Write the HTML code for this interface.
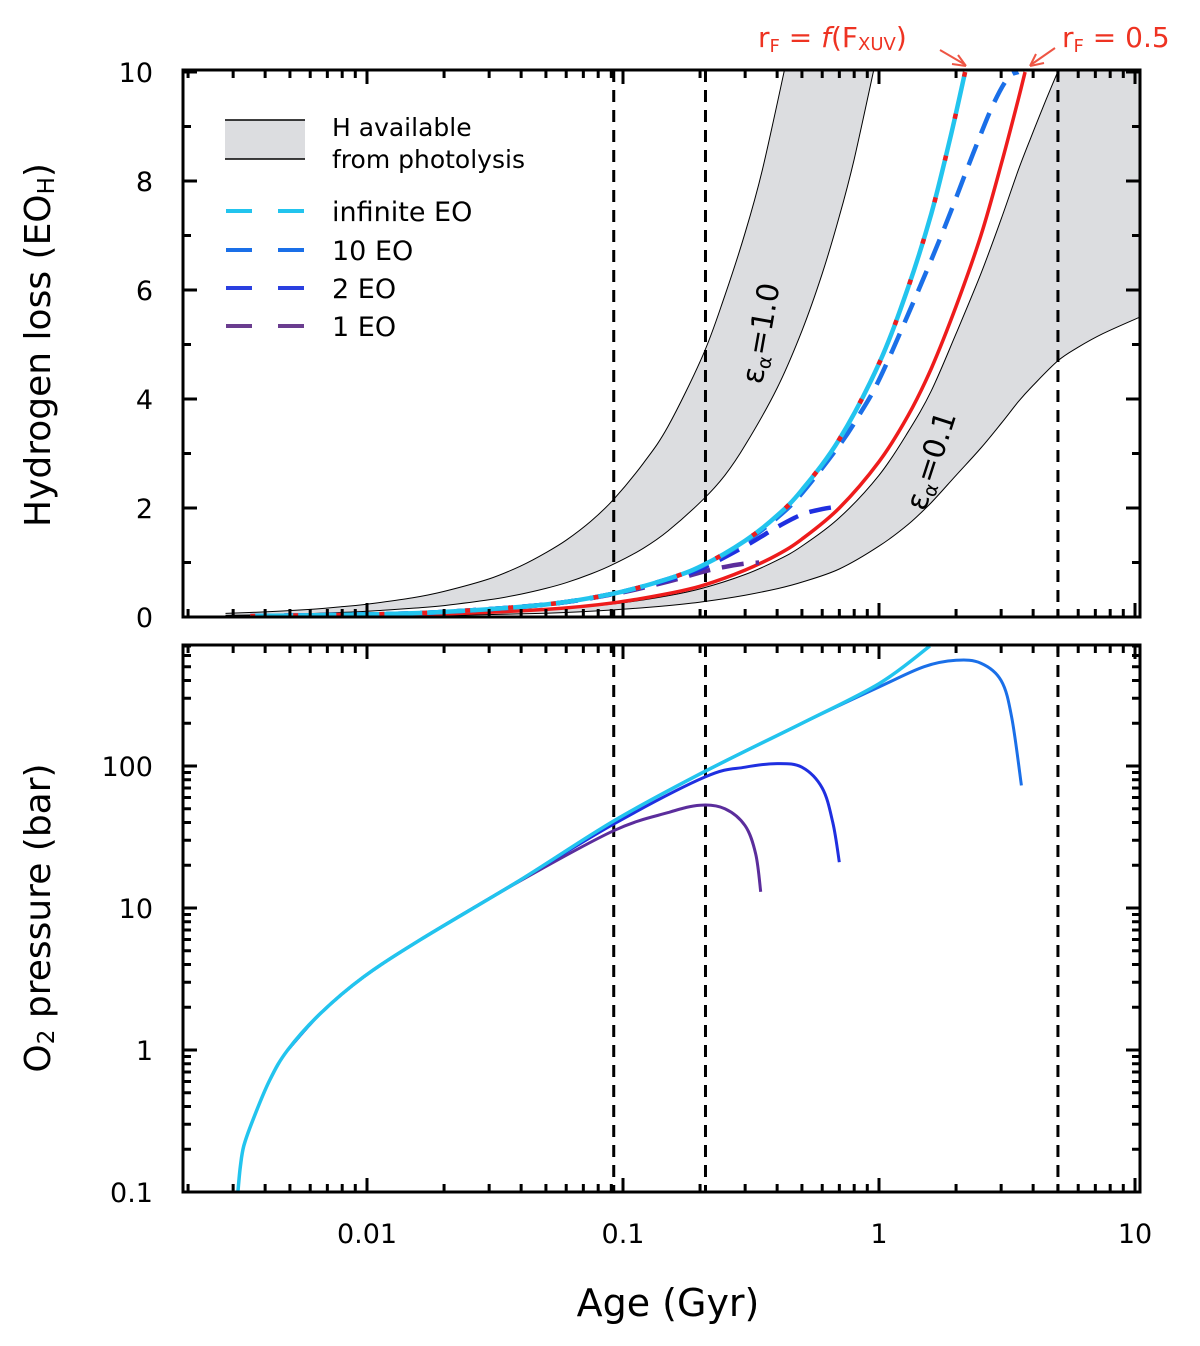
<!DOCTYPE html>
<html><head><meta charset="utf-8"><style>
body{margin:0;background:#fff}
svg text{font-family:"DejaVu Sans","Liberation Sans",sans-serif}
</style></head><body>
<svg id="chart" width="1200" height="1341" xmlns="http://www.w3.org/2000/svg"></svg>
<script>
// ---- data (age in Gyr) ----
const band1UpperAge=[0.0028,0.004,0.006,0.008,0.01,0.015,0.02,0.03,0.04,0.05,0.06,0.075,0.092,0.12,0.15,0.205,0.25,0.3,0.35,0.43];
const band1UpperVal=[0.066,0.094,0.14,0.19,0.235,0.35,0.47,0.7,0.94,1.18,1.41,1.76,2.16,2.82,3.5,4.8,5.9,7.05,8.2,10.1];
const band1LowerAge=[0.0028,0.004,0.006,0.008,0.01,0.015,0.02,0.03,0.04,0.05,0.06,0.075,0.092,0.12,0.15,0.205,0.25,0.3,0.4,0.5,0.6,0.7,0.8,0.96];
const band1LowerVal=[0.03,0.042,0.063,0.084,0.105,0.16,0.21,0.315,0.42,0.525,0.63,0.79,0.97,1.26,1.58,2.15,2.6,3.15,4.2,5.25,6.3,7.35,8.4,10.1];
const band2UpperAge=[0.0028,0.01,0.02,0.05,0.092,0.15,0.205,0.3,0.4,0.5,0.7,1.0,1.3,1.6,2.0,2.5,3.0,3.5,4.0,4.5,5.2];
const band2UpperVal=[0.007,0.026,0.052,0.13,0.24,0.39,0.53,0.78,1.04,1.3,1.82,2.6,3.4,4.15,5.2,6.3,7.3,8.2,8.9,9.5,10.2];
const band2LowerAge=[0.0028,0.01,0.02,0.05,0.092,0.15,0.205,0.3,0.4,0.5,0.7,1.0,1.3,1.6,2.0,2.5,3.0,3.5,4.0,5.0,6.0,7.5,10.4];
const band2LowerVal=[0.004,0.015,0.03,0.07,0.13,0.21,0.28,0.4,0.52,0.64,0.88,1.3,1.7,2.1,2.6,3.1,3.55,3.95,4.25,4.7,4.95,5.2,5.5];
const redAge=[0.0035,0.01,0.02,0.05,0.092,0.15,0.205,0.3,0.4,0.5,0.7,1.0,1.3,1.6,2.0,2.5,3.0,3.5,3.72];
const redVal=[0.01,0.03,0.057,0.14,0.26,0.43,0.58,0.86,1.14,1.43,2.0,2.85,3.7,4.56,5.7,7.0,8.3,9.5,10];
const infAge=[0.0035,0.01,0.02,0.05,0.092,0.15,0.205,0.3,0.4,0.5,0.7,1.0,1.3,1.6,1.9,2.17];
const infVal=[0.016,0.047,0.093,0.23,0.43,0.7,0.95,1.4,1.86,2.33,3.26,4.65,6.05,7.4,8.8,10];
const eo10Age=[0.0035,0.01,0.02,0.05,0.092,0.15,0.205,0.3,0.4,0.5,0.7,0.84,1.0,1.32,1.78,2.33,2.79,3.2,3.5];
const eo10Val=[0.016,0.047,0.093,0.23,0.43,0.7,0.94,1.38,1.82,2.27,3.15,3.72,4.35,5.63,7.08,8.5,9.4,9.9,10];
const eo2Age=[0.0035,0.01,0.02,0.05,0.092,0.15,0.205,0.3,0.4,0.5,0.6,0.7];
const eo2Val=[0.016,0.047,0.093,0.23,0.43,0.68,0.9,1.3,1.65,1.88,1.98,2.03];
const eo1Age=[0.0035,0.01,0.02,0.05,0.092,0.15,0.205,0.25,0.3,0.34];
const eo1Val=[0.016,0.047,0.093,0.23,0.42,0.65,0.83,0.92,0.98,1.0];
const pInfAge=[0.00313,0.0032,0.0033,0.00358,0.00417,0.0049,0.0066,0.0097,0.0161,0.0396,0.092,0.21,0.5,1.0,1.58];
const pInfVal=[0.1,0.15,0.21,0.32,0.615,1.0,1.82,3.27,5.95,15.7,41,92,200,380,700];
const p10Age=[0.0049,0.0066,0.0097,0.0161,0.0396,0.092,0.21,0.5,1.0,1.5,2.0,2.5,3.0,3.3,3.6];
const p10Val=[1.0,1.82,3.27,5.95,15.7,41,92,200,360,500,555,530,400,220,73];
const p2Age=[0.0049,0.0066,0.0097,0.0161,0.0396,0.092,0.21,0.3,0.4,0.5,0.6,0.66,0.7];
const p2Val=[1.0,1.82,3.27,5.95,15.7,39,84,98,104,98,70,40,21];
const p1Age=[0.0049,0.0066,0.0097,0.0161,0.0396,0.092,0.15,0.2,0.25,0.3,0.33,0.345];
const p1Val=[1.0,1.82,3.27,5.95,15.5,35,47,53,50,38,24,13];
const xTicks=[0.01,0.1,1,10];
const xTickLabels=["0.01","0.1","1","10"];
const yTopTicks=[0,2,4,6,8,10];
const yBotTicks=[0.1,1,10,100];
const yBotLabels=["0.1","1","10","100"];
const vlines=[0.092,0.21,5.0];

// ---- axes ----
const L=183,R=1140;
const xs=a=>879+Math.log10(a)*256;
const yT=v=>617-v*54.5;
const yB=p=>766-(Math.log10(p)-2)*142;
const T1=70,B1=617,T2=645,B2=1192;
const svg=document.getElementById('chart');
const NS='http://www.w3.org/2000/svg';
function mk(tag,attrs,parent){const e=document.createElementNS(NS,tag);for(const k in attrs)e.setAttribute(k,attrs[k]);(parent||svg).appendChild(e);return e;}
function smooth(pts){let d='M'+pts[0][0].toFixed(1)+','+pts[0][1].toFixed(1);
 for(let i=0;i<pts.length-1;i++){const p0=pts[Math.max(0,i-1)],p1=pts[i],p2=pts[i+1],p3=pts[Math.min(pts.length-1,i+2)];
 const c1=[p1[0]+(p2[0]-p0[0])/6,p1[1]+(p2[1]-p0[1])/6],c2=[p2[0]-(p3[0]-p1[0])/6,p2[1]-(p3[1]-p1[1])/6];
 d+=`C${c1[0].toFixed(1)},${c1[1].toFixed(1)} ${c2[0].toFixed(1)},${c2[1].toFixed(1)} ${p2[0].toFixed(1)},${p2[1].toFixed(1)}`;}return d;}
const ptsT=(A,V)=>A.map((a,i)=>[xs(a),yT(V[i])]);
const ptsB=(A,V)=>A.map((a,i)=>[xs(a),yB(V[i])]);

const defs=mk('defs',{});
const c1=mk('clipPath',{id:'c1'},defs);mk('rect',{x:L,y:T1,width:R-L,height:B1-T1},c1);
const c2=mk('clipPath',{id:'c2'},defs);mk('rect',{x:L,y:T2,width:R-L,height:B2-T2},c2);
const g1=mk('g',{'clip-path':'url(#c1)'});


const g2=mk('g',{'clip-path':'url(#c2)'});



function edges(p,name){const l=mk('path',{d:smooth(p),fill:'none',stroke:'#000','stroke-width':1},g1);
 
 }
(function(){const up=ptsT(band1UpperAge,band1UpperVal),lo=ptsT(band1LowerAge,band1LowerVal);
 const d=smooth(up)+` L${lo[lo.length-1][0]},${yT(10.1)} `+smooth(lo.slice().reverse()).replace(/^M/,'L')+'Z';
 const e=mk('path',{d,fill:'#dcdde0'},g1);
 
 
 edges(up,'band-eps-1');edges(lo,'band-eps-1');})();
(function(){const up=ptsT(band2UpperAge,band2UpperVal),lo=ptsT(band2LowerAge,band2LowerVal);
 const d=smooth(up)+` L${R+5},${yT(10.2)} L${R+5},${lo[lo.length-1][1]} `+smooth(lo.slice().reverse()).replace(/^M/,'L')+'Z';
 const e=mk('path',{d,fill:'#dcdde0'},g1);
 
 
 edges(up,'band-eps-0.1');edges(lo,'band-eps-0.1');})();

[[g1,T1,B1],[g2,T2,B2]].forEach(([g,t,b])=>vlines.forEach(a=>{const l=mk('line',{x1:xs(a),x2:xs(a),y1:t,y2:b,stroke:'#000','stroke-width':3,'stroke-dasharray':'12,8'},g);
 
 }));

function line(g,pts,color,w,dash,name){const e=mk('path',{d:smooth(pts),fill:'none',stroke:color,'stroke-width':w},g);if(dash)e.setAttribute('stroke-dasharray',dash);
 
 }
line(g1,ptsT(redAge,redVal),'#ee1c1c',3.5,null,'red-rf-0.5-line');
line(g1,ptsT(eo1Age,eo1Val),'#5b2d9c',4.5,'22,12','h-loss-1eo');
line(g1,ptsT(eo2Age,eo2Val),'#1f2fe0',4.5,'22,12','h-loss-2eo');
line(g1,ptsT(eo10Age,eo10Val),'#1a6fe8',4.5,'22,12','h-loss-10eo');
line(g1,ptsT(infAge,infVal),'#22c4ee',4.5,null,'h-loss-infinite');
line(g1,ptsT(infAge,infVal),'#ee1c1c',4.5,'5,38','red-rf-fxuv-line');

line(g2,ptsB(p1Age,p1Val),'#5b2d9c',3,null,'o2-1eo');
line(g2,ptsB(p2Age,p2Val),'#1f2fe0',3,null,'o2-2eo');
line(g2,ptsB(p10Age,p10Val),'#1a6fe8',3,null,'o2-10eo');
line(g2,ptsB(pInfAge,pInfVal),'#22c4ee',3.5,null,'o2-infinite');

function frame(t,b,name){const r=mk('rect',{x:L,y:t,width:R-L,height:b-t,fill:'none',stroke:'#000','stroke-width':3});
 
 
 for(let e=-3;e<=1;e++)for(let m=1;m<10;m++){const a=m*Math.pow(10,e);const x=xs(a);if(x<L||x>R)continue;const len=m==1?14:8;
  const tk=mk('path',{d:`M${x},${b}v${-len}M${x},${t}v${len}`,stroke:'#000','stroke-width':3});
  
  }}
frame(T1,B1,'top-panel-frame');frame(T2,B2,'bottom-panel-frame');
for(let v=0;v<=10;v++){const y=yT(v),len=v%2==0?14:8;const tk=mk('path',{d:`M${L},${y}h${len}M${R},${y}h${-len}`,stroke:'#000','stroke-width':3});
 
 }
for(let e=-1;e<=2;e++)for(let m=1;m<10;m++){const p=m*Math.pow(10,e);const y=yB(p);if(y<T2)continue;const len=m==1?14:8;
 const tk=mk('path',{d:`M${L},${y}h${len}M${R},${y}h${-len}`,stroke:'#000','stroke-width':3});
 
 }
function txt(x,y,s,opt){const e=mk('text',Object.assign({x,y,'font-size':27,fill:'#000'},opt||{}));e.textContent=s;return e;}
yTopTicks.forEach(v=>{const e=txt(153,yT(v)+10,String(v),{'text-anchor':'end'});
 
 });
yBotTicks.forEach((v,i)=>{const e=txt(153,yB(v)+10,yBotLabels[i],{'text-anchor':'end'});
 
 });
xTicks.forEach((v,i)=>{const e=txt(xs(v),1243,xTickLabels[i],{'text-anchor':'middle'});
 
 });
</script>
<svg width="1200" height="1341" style="position:absolute;left:0;top:0" xmlns="http://www.w3.org/2000/svg" font-family="DejaVu Sans, Liberation Sans, sans-serif">
<text x="668" y="1316" font-size="38" text-anchor="middle">Age (Gyr)</text>
<text transform="translate(50,345) rotate(-90)" font-size="36" text-anchor="middle">Hydrogen loss (EO<tspan font-size="23" dy="4">H</tspan><tspan dy="-4">)</tspan></text>
<text transform="translate(50,918) rotate(-90)" font-size="36" text-anchor="middle">O<tspan font-size="23" dy="4">2</tspan><tspan dy="-4"> pressure (bar)</tspan></text>
<g>
<rect x="225" y="120" width="80" height="39" fill="#dcdde0"/>
<line x1="225" y1="120" x2="305" y2="120" stroke="#000" stroke-width="1.5"/>
<line x1="225" y1="159" x2="305" y2="159" stroke="#000" stroke-width="1.5"/>
<text x="332" y="136" font-size="25">H available</text>
<text x="332" y="168" font-size="25">from photolysis</text>
<line x1="226" y1="211" x2="305" y2="211" stroke="#22c4ee" stroke-width="4" stroke-dasharray="26,26"/>
<text x="332" y="221" font-size="27">infinite EO</text>
<line x1="226" y1="250" x2="305" y2="250" stroke="#1a6fe8" stroke-width="4" stroke-dasharray="26,26"/>
<text x="332" y="260" font-size="27">10 EO</text>
<line x1="226" y1="288" x2="305" y2="288" stroke="#2a3fe0" stroke-width="4" stroke-dasharray="26,26"/>
<text x="332" y="298" font-size="27">2 EO</text>
<line x1="226" y1="326" x2="305" y2="326" stroke="#6a3d8f" stroke-width="4" stroke-dasharray="26,26"/>
<text x="332" y="336" font-size="27">1 EO</text>
</g>
<text transform="translate(762,385) rotate(-80)" font-size="30">ε<tspan font-size="19" dy="5">α</tspan><tspan dy="-5">=1.0</tspan></text>
<text transform="translate(925,512) rotate(-72)" font-size="30">ε<tspan font-size="19" dy="5">α</tspan><tspan dy="-5">=0.1</tspan></text>
<g fill="#ee3322">
<text x="758" y="47" font-size="28">r<tspan font-size="18" dy="5">F</tspan><tspan dy="-5"> = </tspan><tspan font-style="italic">f</tspan>(F<tspan font-size="18" dy="3">XUV</tspan><tspan dy="-3">)</tspan></text>
<path d="M940,50 L964,64" stroke="#ee5544" stroke-width="2" fill="none"/>
<path d="M966,66 L952,64 M966,66 L958,55" stroke="#ee5544" stroke-width="2" fill="none"/>
</g>
<g fill="#ee3322">
<text x="1062" y="47" font-size="28">r<tspan font-size="18" dy="5">F</tspan><tspan dy="-5"> = 0.5</tspan></text>
<path d="M1055,48 L1032,64" stroke="#ee5544" stroke-width="2" fill="none"/>
<path d="M1030,66 L1044,63 M1030,66 L1036,54" stroke="#ee5544" stroke-width="2" fill="none"/>
</g>
</svg>
</body></html>
